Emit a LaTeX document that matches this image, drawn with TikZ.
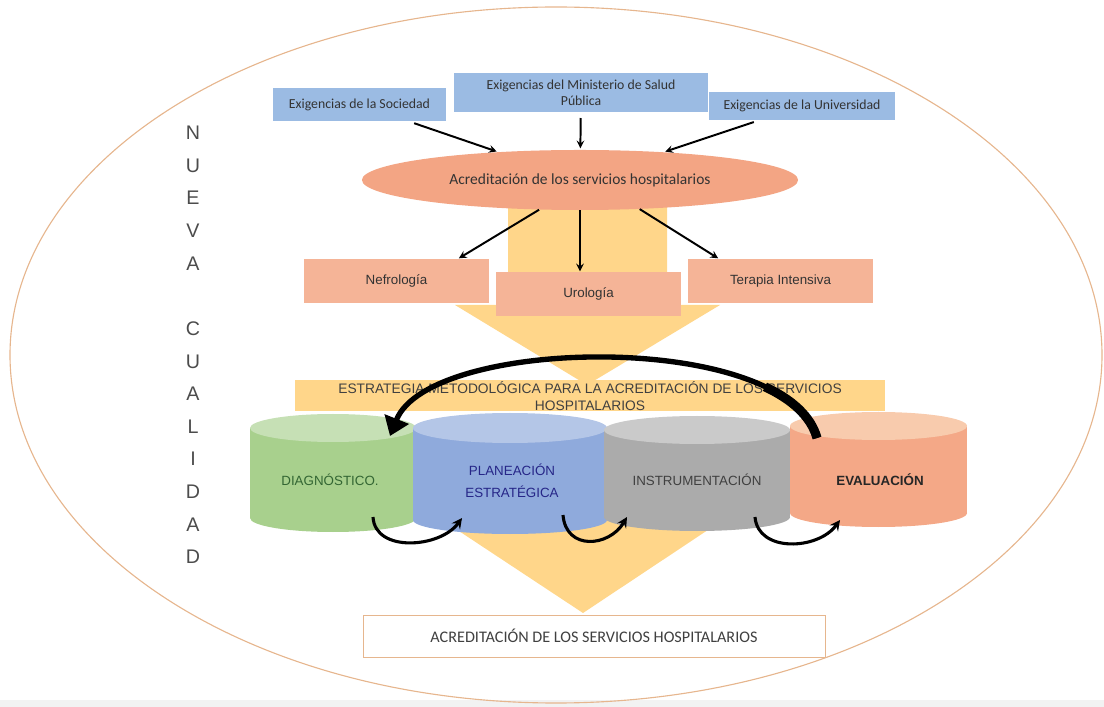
\documentclass[tikz,border=0pt]{standalone}
\usepackage{fontspec}
\setmainfont{Liberation Sans}
\newfontfamily\carlito{Carlito}
\usepackage{xcolor}
\usetikzlibrary{shapes.geometric,arrows.meta}
\definecolor{boxblue}{HTML}{9BBBE3}
\definecolor{salmonbox}{HTML}{F5B497}
\definecolor{oval}{HTML}{F3A584}
\definecolor{funnel}{HTML}{FFD68A}
\definecolor{rim}{HTML}{E6B68E}
\definecolor{cgreen}{HTML}{A8D08D}
\definecolor{cgreentop}{HTML}{C6E0B5}
\definecolor{cblue}{HTML}{8FAADC}
\definecolor{cbluetop}{HTML}{B4C6E7}
\definecolor{cgrey}{HTML}{ABABAB}
\definecolor{cgreytop}{HTML}{CACACA}
\definecolor{csalmon}{HTML}{F4A887}
\definecolor{csalmontop}{HTML}{F8CBAD}

\begin{document}
\begin{tikzpicture}[x=0.025cm,y=-0.025cm,
    demand/.style={fill=boxblue,font=\carlito\fontsize{9.8}{11.4}\selectfont,text=black!80,align=center,inner sep=0pt},
    service/.style={fill=salmonbox,font=\fontsize{9.5}{11}\selectfont,text=black!80,minimum width=4.63cm,minimum height=1.12cm,inner sep=0pt},
    stage/.style={font=\fontsize{9.5}{15.5}\selectfont,align=center},
    feed/.style={line width=1.4pt,-stealth},
    hop/.style={line width=2.2pt,-stealth}]
  \useasboundingbox (0,0) rectangle (1104,707);
  \fill[black!5] (0,700) rectangle (1104,707);
  \draw[rim,line width=0.8pt] (556,355) ellipse [x radius=546,y radius=348];

  \fill[funnel] (508,205) -- (667,205) -- (667,305) -- (720,305) -- (587,385) -- (455,305) -- (508,305) -- cycle;
  \fill[funnel] (295,380) rectangle (885,411);
  \fill[funnel] (415,502) -- (750,502) -- (583,613) -- cycle;

  \node[demand,minimum width=4.33cm,minimum height=0.83cm] (soc) at (359.5,104.5) {Exigencias de la Sociedad};
  \node[demand,minimum width=6.35cm,minimum height=0.98cm] (min) at (581,92.5) {Exigencias del Ministerio de Salud\\Pública};
  \node[demand,minimum width=4.65cm,minimum height=0.7cm] (uni) at (802,106) {Exigencias de la Universidad};
  \node[ellipse,fill=oval,minimum width=10.9cm,minimum height=1.5cm,inner sep=0pt,
        font=\carlito\fontsize{11}{13}\selectfont,text=black!80] (acr) at (580,180) {Acreditación de los servicios hospitalarios};

  \node[service] (nef) at (396.5,281) {Nefrología};
  \node[service] (uro) at (588.5,294) {Urología};
  \node[service] (ter) at (780.5,281) {Terapia Intensiva};

  \path[feed,shorten <=4pt,shorten >=1pt]
    (soc) edge (acr)
    (min) edge (acr)
    (uni) edge (acr);
  \path[feed]
    (acr.216) edge (nef.20)
    (acr.south) edge (acr.south |- uro.north)
    (acr.-26) edge (ter.160);

  \node[font=\fontsize{9.8}{12}\selectfont,text=black!75,align=center] (est) at (590,396)
    {ESTRATEGIA METODOLÓGICA PARA LA ACREDITACIÓN DE LOS SERVICIOS\\HOSPITALARIOS};

  \fill[cgreen] (250,428) rectangle (416,518);
  \fill[cgreen] (333,518) ellipse [x radius=83,y radius=14];
  \fill[cgreentop] (333,428) ellipse [x radius=83,y radius=14];
  \fill[cblue] (413,428) rectangle (607,520);
  \fill[cblue] (510,520) ellipse [x radius=97,y radius=14];
  \fill[cbluetop] (510,428) ellipse [x radius=97,y radius=15];
  \fill[cgrey] (604,430) rectangle (790,517);
  \fill[cgrey] (697,517) ellipse [x radius=93,y radius=14];
  \fill[cgreytop] (697,430) ellipse [x radius=93,y radius=14];
  \fill[csalmon] (790,426) rectangle (967,513);
  \fill[csalmon] (878.5,513) ellipse [x radius=88.5,y radius=14];
  \fill[csalmontop] (878.5,426) ellipse [x radius=88.5,y radius=14];

  \node[stage,text=green!25!black!80] (dg) at (330,480) {DIAGNÓSTICO.};
  \node[stage,text=blue!45!black!85] (pl) at (512,481) {PLANEACIÓN\\ESTRATÉGICA};
  \node[stage,text=black!75] (in) at (697,480) {INSTRUMENTACIÓN};
  \node[stage,font=\bfseries\fontsize{9.5}{15.5}\selectfont,text=black!85] (ev) at (880,480) {EVALUACIÓN};

  \coordinate (evtop) at (817,438);
  \coordinate (dgtop) at (390,436);
  \coordinate (arcmid) at (764.9,386.8);
  \draw[line width=3.8pt,-{Triangle[length=13pt,width=18pt]}] (evtop) .. controls +(-30,-108) and +(40,-100) .. (dgtop);
  \draw[line width=6.5pt] (evtop) .. controls (811,416.4) and (791.9,399.4) .. (arcmid);

  \coordinate (g1) at (373,517);
  \coordinate (b1) at (462,518);
  \coordinate (b2) at (563,515);
  \coordinate (y1) at (627,517);
  \coordinate (y2) at (755,517);
  \coordinate (s1) at (840,520);
  \draw[hop] (g1) .. controls +(2,36) and +(-22,30) .. (b1);
  \draw[hop] (b2) .. controls +(3,36) and +(-18,30) .. (y1);
  \draw[hop] (y2) .. controls +(3,36) and +(-22,30) .. (s1);

  \node[draw=rim,fill=white,minimum width=11.55cm,minimum height=1.05cm,inner sep=0pt,
        font=\carlito\fontsize{11.5}{13}\selectfont,text=black!75] (goal) at (594,636) {ACREDITACIÓN DE LOS SERVICIOS HOSPITALARIOS};

  \node[align=center,font=\fontsize{14}{23.2}\selectfont,text=black!70] (nc) at (193,345)
    {N\\U\\E\\V\\A\\\mbox{}\\C\\U\\A\\L\\I\\D\\A\\D};
\end{tikzpicture}
\end{document}
